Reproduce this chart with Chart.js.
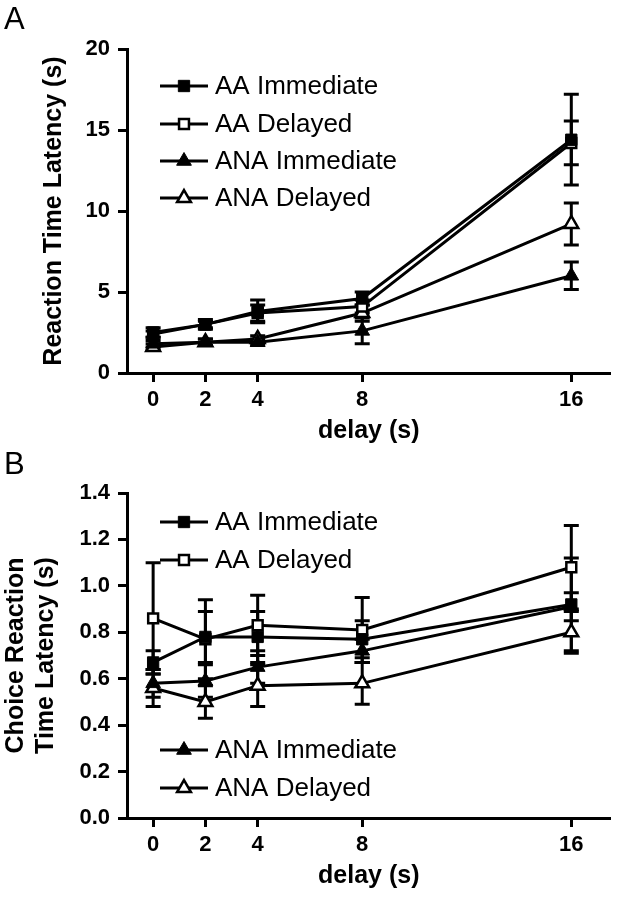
<!DOCTYPE html>
<html lang="en">
<head>
<meta charset="UTF-8" />
<title>Reaction time latency by delay</title>
<script src="https://cdn.jsdelivr.net/npm/chart.js@4.4.0/dist/chart.umd.min.js"></script>
<style>
  body { margin: 0; background: #fff; }
  .panel { position: absolute; left: 0; width: 621px; height: 450px; }
  #panelA { top: 0; }
  #panelB { top: 445px; }
</style>
</head>
<body>
<div class="panel" id="panelA"><canvas id="chartA" width="621" height="450"></canvas></div>
<div class="panel" id="panelB"><canvas id="chartB" width="621" height="450"></canvas></div>

<script>
const delays = [0, 2, 4, 8, 16];
const seriesNames = ['AA Immediate', 'AA Delayed', 'ANA Immediate', 'ANA Delayed'];

// A - reaction time latency (s), means and error bars
const rtAAImm = [2.5, 3.0, 3.8, 4.6, 14.4];
const rtAAImmErr = [0.3, 0.2, 0.7, 0.4, 2.8];
const rtAADel = [2.4, 3.0, 3.7, 4.1, 14.2];
const rtAADelErr = [0.2, 0.3, 0.5, 0.4, 1.35];
const rtANAImm = [1.8, 1.9, 1.9, 2.6, 6.0];
const rtANAImmErr = [0.2, 0.2, 0.2, 0.8, 0.85];
const rtANADel = [1.6, 1.9, 2.1, 3.7, 9.2];
const rtANADelErr = [0.2, 0.2, 0.2, 0.5, 1.3];

// B - choice reaction time latency (s)
const crtAAImm = [0.67, 0.78, 0.78, 0.77, 0.92];
const crtAAImmErr = [0.05, 0.11, 0.11, 0.08, 0.20];
const crtAADel = [0.86, 0.77, 0.83, 0.81, 1.08];
const crtAADelErr = [0.24, 0.17, 0.13, 0.14, 0.18];
const crtANAImm = [0.58, 0.59, 0.65, 0.72, 0.91];
const crtANAImmErr = [0.06, 0.07, 0.07, 0.05, 0.06];
const crtANADel = [0.56, 0.50, 0.57, 0.58, 0.80];
const crtANADelErr = [0.08, 0.07, 0.09, 0.09, 0.09];

const markerStyles = ['rect', 'rect', 'triangle', 'triangle'];
const markerFilled = [true, false, true, false];

const FONT = "'Liberation Sans', Arial, sans-serif";
Chart.defaults.font.family = FONT;
Chart.defaults.color = '#000';

function buildDatasets(means, errs) {
  return seriesNames.map((name, i) => {
    const filled = markerFilled[i];
    const tri = markerStyles[i] === 'triangle';
    return {
      label: name,
      data: delays.map((d, j) => ({ x: d, y: means[i][j] })),
      errors: errs[i],
      borderColor: '#000',
      borderWidth: 3,
      tension: 0,
      fill: false,
      pointStyle: markerStyles[i],
      pointRadius: tri ? (filled ? 8.5 : 8) : (filled ? 8 : 7),
      pointBorderWidth: filled ? 1 : 2.5,
      pointBackgroundColor: filled ? '#000' : '#fff',
      pointBorderColor: '#000'
    };
  });
}

// vertical error bars with caps, drawn under the markers
const errorBars = {
  id: 'errorBars',
  beforeDatasetsDraw(chart) {
    const ctx = chart.ctx;
    const y = chart.scales.y;
    ctx.save();
    ctx.strokeStyle = '#000';
    ctx.lineWidth = 3;
    chart.data.datasets.forEach((ds, i) => {
      chart.getDatasetMeta(i).data.forEach((pt, j) => {
        const v = ds.data[j].y, e = ds.errors[j];
        const top = y.getPixelForValue(v + e), bot = y.getPixelForValue(v - e);
        ctx.beginPath();
        ctx.moveTo(pt.x, top); ctx.lineTo(pt.x, bot);
        ctx.moveTo(pt.x - 7.5, top); ctx.lineTo(pt.x + 7.5, top);
        ctx.moveTo(pt.x - 7.5, bot); ctx.lineTo(pt.x + 7.5, bot);
        ctx.stroke();
      });
    });
    ctx.restore();
  }
};

// legend rows placed inside the plot, plus the panel letter
const markerLegend = {
  id: 'markerLegend',
  afterDraw(chart, args, opts) {
    const ctx = chart.ctx;
    ctx.save();
    opts.rows.forEach((rowY, i) => {
      const ds = chart.data.datasets[i];
      ctx.strokeStyle = '#000';
      ctx.lineWidth = 3;
      ctx.beginPath();
      ctx.moveTo(opts.x, rowY);
      ctx.lineTo(opts.x + 48, rowY);
      ctx.stroke();
      ctx.fillStyle = ds.pointBackgroundColor;
      ctx.strokeStyle = ds.pointBorderColor;
      ctx.lineWidth = ds.pointBorderWidth;
      Chart.helpers.drawPoint(ctx, {
        pointStyle: ds.pointStyle, radius: ds.pointRadius,
        borderWidth: ds.pointBorderWidth, rotation: 0
      }, opts.x + 24, rowY);
      ctx.fillStyle = '#000';
      ctx.font = '26px ' + FONT;
      ctx.textBaseline = 'middle';
      ctx.fillText(ds.label, opts.x + 55, rowY + 1);
    });
    ctx.font = '31px ' + FONT;
    ctx.textBaseline = 'alphabetic';
    ctx.fillStyle = '#000';
    ctx.fillText(opts.letter, 4, 29);
    ctx.restore();
  }
};

function makeChart(id, datasets, yOpts, legendOpts, topPad) {
  return new Chart(document.getElementById(id), {
    type: 'line',
    data: { datasets: datasets },
    plugins: [errorBars, markerLegend],
    options: {
      responsive: false,
      animation: false,
      layout: { padding: { top: topPad, right: 4, left: 0, bottom: 0 } },
      plugins: {
        legend: { display: false },
        tooltip: { enabled: false },
        markerLegend: legendOpts
      },
      scales: {
        x: {
          type: 'linear',
          min: -1,
          max: 17.5,
          afterBuildTicks: s => { s.ticks = delays.map(v => ({ value: v })); },
          afterFit: s => { s.height = 77; },
          grid: { drawOnChartArea: false, tickLength: 9, tickWidth: 3, tickColor: '#000' },
          border: { width: 3, color: '#000' },
          ticks: { font: { size: 22, weight: 'bold' }, padding: 5, maxRotation: 0, autoSkip: false },
          title: { display: true, text: 'delay (s)', font: { size: 25, weight: 'bold' }, padding: { top: 0, bottom: 4 } }
        },
        y: {
          min: 0,
          max: yOpts.max,
          afterFit: s => { s.width = 127; },
          grid: { drawOnChartArea: false, tickLength: 9, tickWidth: 3, tickColor: '#000' },
          border: { width: 3, color: '#000' },
          ticks: { stepSize: yOpts.step, font: { size: 22, weight: 'bold' }, padding: 8, callback: yOpts.fmt },
          title: { display: true, text: yOpts.title, font: { size: 25, weight: 'bold' }, padding: { top: yOpts.titlePad, bottom: 0 } }
        }
      }
    }
  });
}

makeChart('chartA',
  buildDatasets([rtAAImm, rtAADel, rtANAImm, rtANADel], [rtAAImmErr, rtAADelErr, rtANAImmErr, rtANADelErr]),
  { max: 20, step: 5, fmt: v => v, title: 'Reaction Time Latency (s)', titlePad: 39 },
  { x: 160, rows: [86, 124, 161, 198], letter: 'A' },
  49);

makeChart('chartB',
  buildDatasets([crtAAImm, crtAADel, crtANAImm, crtANADel], [crtAAImmErr, crtAADelErr, crtANAImmErr, crtANADelErr]),
  { max: 1.4, step: 0.2, fmt: v => v.toFixed(1), title: ['Choice Reaction', 'Time Latency (s)'], titlePad: 1 },
  { x: 160, rows: [77, 115, 305, 343], letter: 'B' },
  48);
</script>
</body>
</html>
